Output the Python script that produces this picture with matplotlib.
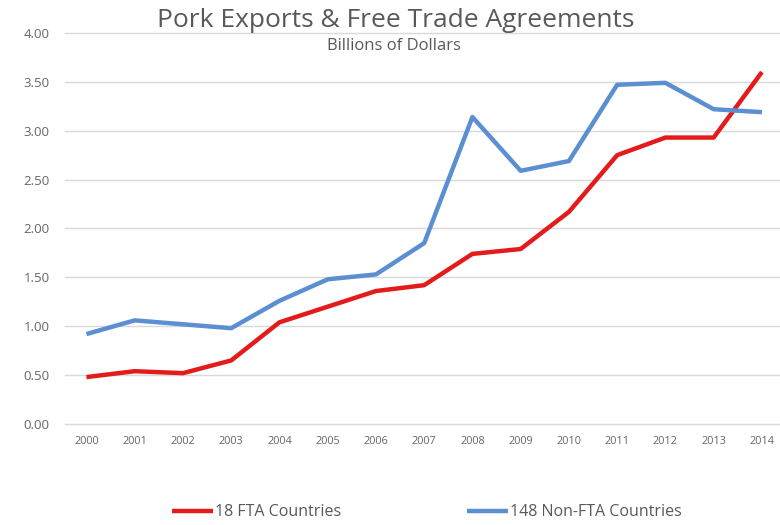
import matplotlib
matplotlib.use("Agg")
import matplotlib.pyplot as plt

years = ["2000", "2001", "2002", "2003", "2004", "2005", "2006", "2007",
         "2008", "2009", "2010", "2011", "2012", "2013", "2014"]
fta = [0.48, 0.54, 0.52, 0.65, 1.04, 1.20, 1.36, 1.42, 1.74, 1.79, 2.17, 2.75, 2.93, 2.93, 3.60]
non_fta = [0.92, 1.06, 1.02, 0.98, 1.26, 1.48, 1.53, 1.85, 3.14, 2.59, 2.69, 3.47, 3.49, 3.22, 3.19]
yticks = [0.0, 0.5, 1.0, 1.5, 2.0, 2.5, 3.0, 3.5, 4.0]

plt.rcParams['font.family'] = ['Open Sans', 'DejaVu Sans']
gray = '#595959'
tgray = '#666666'

fig = plt.figure(figsize=(7.8, 5.25), dpi=100)
ax = fig.add_axes([0.083, 0.1924, 0.917, 0.7448])

x = list(range(len(years)))
l1, = ax.plot(x, fta, color='#E41B1B', lw=3.2, solid_capstyle='butt', label='18 FTA Countries', zorder=3)
l2, = ax.plot(x, non_fta, color='#5B8FD2', lw=3.2, solid_capstyle='butt', label='148 Non-FTA Countries', zorder=3)

ax.set_xlim(-0.45, 14.375)
ax.set_ylim(0, 4)
ax.set_yticks(yticks)
ax.set_yticklabels([f"{v:.2f}" for v in yticks], fontsize=9.5, color=tgray)
ax.set_xticks(x)
ax.set_xticklabels(years, fontsize=7.8, color=tgray)
ax.tick_params(axis='both', length=0)
ax.tick_params(axis='y', pad=11)
ax.tick_params(axis='x', pad=9)
for s in ax.spines.values():
    s.set_visible(False)
ax.grid(axis='y', color='#D9D9D9', lw=1)
ax.set_axisbelow(True)
for gl in ax.get_ygridlines():
    gl.set_clip_on(False)

fig.text(0.507, 0.961, "Pork Exports & Free Trade Agreements", ha='center', va='center',
         fontsize=19, color=gray)
fig.text(0.505, 0.913, "Billions of Dollars", ha='center', va='center',
         fontsize=12, color=gray)

fig.legend(handles=[l1, l2], loc='center', bbox_to_anchor=(0.547, 0.024), ncol=2,
           frameon=False, fontsize=11.5, handlelength=2.6, handletextpad=0.1,
           columnspacing=7.9, labelcolor=gray)

fig.savefig("out.png", dpi=100)
